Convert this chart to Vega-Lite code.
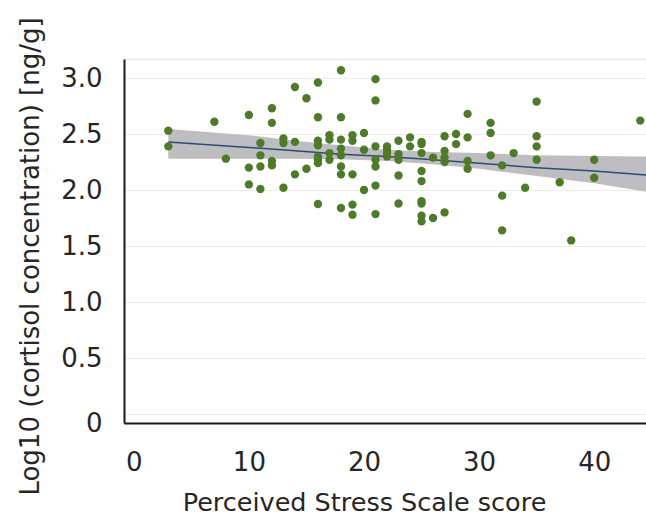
{
  "$schema": "https://vega.github.io/schema/vega-lite/v6.json",
  "width": 522,
  "height": 364,
  "autosize": {"type": "none"},
  "padding": {"left": 124, "top": 59, "right": 0, "bottom": 94},
  "background": "white",
  "config": {
    "view": {"stroke": "#e6e6e6", "strokeWidth": 1},
    "font": "DejaVu Sans"
  },
  "datasets": {
    "points": [
      {"pss": 3, "cort": 2.53}, {"pss": 3, "cort": 2.39},
      {"pss": 7, "cort": 2.61},
      {"pss": 8, "cort": 2.28},
      {"pss": 10, "cort": 2.67}, {"pss": 10, "cort": 2.2}, {"pss": 10, "cort": 2.05},
      {"pss": 11, "cort": 2.42}, {"pss": 11, "cort": 2.31}, {"pss": 11, "cort": 2.21}, {"pss": 11, "cort": 2.01},
      {"pss": 12, "cort": 2.73}, {"pss": 12, "cort": 2.6}, {"pss": 12, "cort": 2.26}, {"pss": 12, "cort": 2.22},
      {"pss": 13, "cort": 2.46}, {"pss": 13, "cort": 2.42}, {"pss": 13, "cort": 2.02},
      {"pss": 14, "cort": 2.92}, {"pss": 14, "cort": 2.43}, {"pss": 14, "cort": 2.14},
      {"pss": 15, "cort": 2.82}, {"pss": 15, "cort": 2.19},
      {"pss": 16, "cort": 2.96}, {"pss": 16, "cort": 2.65}, {"pss": 16, "cort": 2.44}, {"pss": 16, "cort": 2.4}, {"pss": 16, "cort": 2.3}, {"pss": 16, "cort": 2.27}, {"pss": 16, "cort": 2.24}, {"pss": 16, "cort": 1.875},
      {"pss": 17, "cort": 2.49}, {"pss": 17, "cort": 2.45}, {"pss": 17, "cort": 2.33}, {"pss": 17, "cort": 2.27},
      {"pss": 18, "cort": 3.07}, {"pss": 18, "cort": 2.65}, {"pss": 18, "cort": 2.45}, {"pss": 18, "cort": 2.37}, {"pss": 18, "cort": 2.31}, {"pss": 18, "cort": 2.21}, {"pss": 18, "cort": 2.14}, {"pss": 18, "cort": 1.84},
      {"pss": 19, "cort": 2.49}, {"pss": 19, "cort": 2.44}, {"pss": 19, "cort": 2.14}, {"pss": 19, "cort": 1.87}, {"pss": 19, "cort": 1.78},
      {"pss": 20, "cort": 2.51}, {"pss": 20, "cort": 2.36}, {"pss": 20, "cort": 2.0},
      {"pss": 21, "cort": 2.99}, {"pss": 21, "cort": 2.8}, {"pss": 21, "cort": 2.39}, {"pss": 21, "cort": 2.27}, {"pss": 21, "cort": 2.21}, {"pss": 21, "cort": 2.04}, {"pss": 21, "cort": 1.785},
      {"pss": 22, "cort": 2.39}, {"pss": 22, "cort": 2.36}, {"pss": 22, "cort": 2.33}, {"pss": 22, "cort": 2.3},
      {"pss": 23, "cort": 2.44}, {"pss": 23, "cort": 2.32}, {"pss": 23, "cort": 2.27}, {"pss": 23, "cort": 2.13}, {"pss": 23, "cort": 1.88},
      {"pss": 24, "cort": 2.47}, {"pss": 24, "cort": 2.39},
      {"pss": 25, "cort": 2.43}, {"pss": 25, "cort": 2.41}, {"pss": 25, "cort": 2.33}, {"pss": 25, "cort": 2.17}, {"pss": 25, "cort": 2.08}, {"pss": 25, "cort": 1.9}, {"pss": 25, "cort": 1.88}, {"pss": 25, "cort": 1.77}, {"pss": 25, "cort": 1.72},
      {"pss": 26, "cort": 2.29}, {"pss": 26, "cort": 1.75},
      {"pss": 27, "cort": 2.48}, {"pss": 27, "cort": 2.35}, {"pss": 27, "cort": 2.29}, {"pss": 27, "cort": 2.25}, {"pss": 27, "cort": 1.8},
      {"pss": 28, "cort": 2.5}, {"pss": 28, "cort": 2.41},
      {"pss": 29, "cort": 2.68}, {"pss": 29, "cort": 2.47}, {"pss": 29, "cort": 2.26}, {"pss": 29, "cort": 2.19},
      {"pss": 31, "cort": 2.6}, {"pss": 31, "cort": 2.51}, {"pss": 31, "cort": 2.31},
      {"pss": 32, "cort": 2.22}, {"pss": 32, "cort": 1.95}, {"pss": 32, "cort": 1.64},
      {"pss": 33, "cort": 2.33},
      {"pss": 34, "cort": 2.02},
      {"pss": 35, "cort": 2.79}, {"pss": 35, "cort": 2.48}, {"pss": 35, "cort": 2.39}, {"pss": 35, "cort": 2.27},
      {"pss": 37, "cort": 2.07},
      {"pss": 38, "cort": 1.55},
      {"pss": 40, "cort": 2.27}, {"pss": 40, "cort": 2.11},
      {"pss": 44, "cort": 2.62}
    ],
    "fit": [
      {"pss": 3, "lower": 2.28, "upper": 2.545, "fit": 2.43},
      {"pss": 10, "lower": 2.28, "upper": 2.49, "fit": 2.38},
      {"pss": 14, "lower": 2.28, "upper": 2.44, "fit": 2.35},
      {"pss": 18, "lower": 2.275, "upper": 2.4, "fit": 2.32},
      {"pss": 22, "lower": 2.26, "upper": 2.36, "fit": 2.3},
      {"pss": 26, "lower": 2.23, "upper": 2.34, "fit": 2.27},
      {"pss": 30, "lower": 2.19, "upper": 2.33, "fit": 2.24},
      {"pss": 35, "lower": 2.125, "upper": 2.31, "fit": 2.2},
      {"pss": 40, "lower": 2.06, "upper": 2.305, "fit": 2.17},
      {"pss": 44.5, "lower": 1.985, "upper": 2.3, "fit": 2.135}
    ]
  },
  "encoding": {
    "x": {
      "field": "pss",
      "type": "quantitative",
      "title": "Perceived Stress Scale score",
      "scale": {"domain": [-0.85, 44.5], "nice": false, "zero": false},
      "axis": {
        "values": [0, 10, 20, 30, 40],
        "grid": false,
        "ticks": false,
        "domainColor": "#1a1a1a",
        "domainWidth": 2,
        "labelFont": "DejaVu Sans",
        "labelFontSize": 26,
        "labelColor": "#262626",
        "labelPadding": 26,
        "labelFlush": false,
        "labelOverlap": false,
        "titleFont": "DejaVu Sans",
        "titleFontSize": 25.5,
        "titleFontWeight": "normal",
        "titleColor": "#262626",
        "titleX": 240,
        "titleY": 87,
        "titleAlign": "center",
        "titleBaseline": "alphabetic"
      }
    }
  },
  "layer": [
    {
      "data": {"name": "fit"},
      "mark": {"type": "area", "color": "#bebec1", "opacity": 1},
      "encoding": {
        "y": {
          "field": "lower",
          "type": "quantitative",
          "title": "Log10 (cortisol concentration) [ng/g]",
          "scale": {"domain": [-0.08, 3.17], "nice": false, "zero": false},
          "axis": {
            "values": [0, 0.5, 1, 1.5, 2, 2.5, 3],
            "labelExpr": "datum.value == 0 ? '0' : format(datum.value, '.1f')",
            "grid": true,
            "gridColor": "#ececec",
            "gridWidth": 1,
            "ticks": false,
            "domainColor": "#1a1a1a",
            "domainWidth": 2,
            "labelFont": "DejaVu Sans",
            "labelFontSize": 26,
            "labelColor": "#262626",
            "labelPadding": 22,
            "labelOffset": {"condition": {"test": "datum.value == 0", "value": 9}, "value": 0},
            "labelFlush": false,
            "labelOverlap": false,
            "titleFont": "DejaVu Sans",
            "titleFontSize": 26,
            "titleFontWeight": "normal",
            "titleColor": "#262626",
            "titleAngle": 270,
            "titleX": -86,
            "titleY": 197,
            "titleAlign": "center",
            "titleBaseline": "alphabetic"
          }
        },
        "y2": {"field": "upper"}
      }
    },
    {
      "data": {"name": "fit"},
      "mark": {"type": "line", "color": "#2d4b78", "strokeWidth": 1.5},
      "encoding": {
        "y": {"field": "fit", "type": "quantitative", "title": "Log10 (cortisol concentration) [ng/g]"}
      }
    },
    {
      "data": {"name": "points"},
      "mark": {"type": "point", "shape": "circle", "filled": true, "size": 70, "color": "#4e7a2a", "opacity": 1},
      "encoding": {
        "y": {"field": "cort", "type": "quantitative", "title": "Log10 (cortisol concentration) [ng/g]"}
      }
    }
  ]
}
